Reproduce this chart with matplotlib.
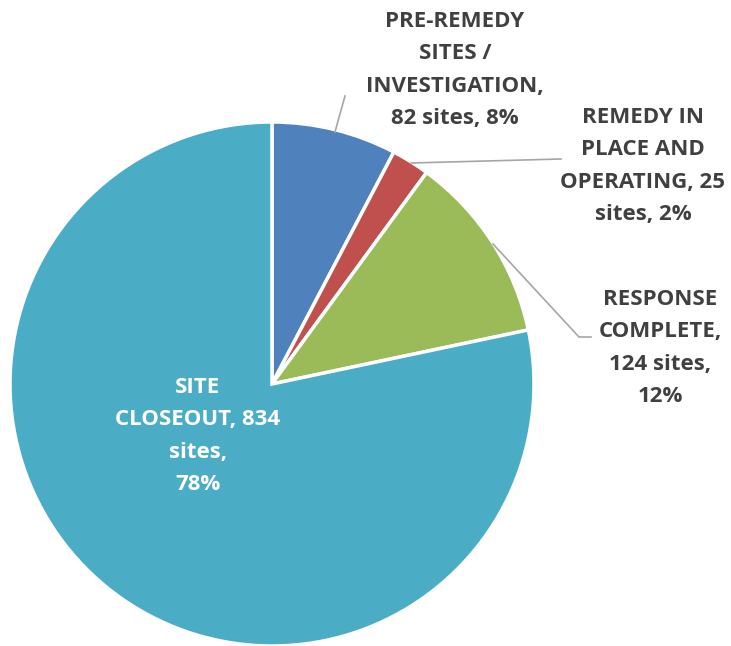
import matplotlib.pyplot as plt

labels = ["PRE-REMEDY\nSITES /\nINVESTIGATION,\n82 sites, 8%",
          "REMEDY IN\nPLACE AND\nOPERATING, 25\nsites, 2%",
          "RESPONSE\nCOMPLETE,\n124 sites,\n12%",
          "SITE\nCLOSEOUT, 834\nsites,\n78%"]
sites = [82, 25, 124, 834]
colors = ['#4F81BD', '#C0504D', '#9BBB59', '#4BACC6']

W, H = 731, 646
fig = plt.figure(figsize=(W / 100, H / 100), dpi=100)
ax = fig.add_axes([0, 0, 1, 1])

cx, cy, r = 272, H - 384, 262
ax.pie(sites, colors=colors, startangle=90, counterclock=False,
       center=(cx, cy), radius=r,
       wedgeprops=dict(edgecolor='white', linewidth=2.5))
ax.set_xlim(0, W)
ax.set_ylim(0, H)
ax.set_aspect('equal')
ax.axis('off')

font = dict(family='Open Sans', weight='bold', fontsize=16, linespacing=1.7,
            ha='center', va='center')
txt = '#404040'
ax.text(455, H - 70, labels[0], color=txt, **font)
ax.text(643, H - 166, labels[1], color=txt, **font)
ax.text(660, H - 348, labels[2], color=txt, **font)
ax.text(198, H - 436, labels[3], color='white', **font)

lc = '#A6A6A6'
ax.plot([335, 345], [H - 132, H - 96], color=lc, lw=1.2)
ax.plot([411, 561], [H - 163, H - 159], color=lc, lw=1.2)
ax.plot([493, 579, 591], [H - 244, H - 337, H - 337], color=lc, lw=1.2)

fig.savefig('out.png', dpi=100)
